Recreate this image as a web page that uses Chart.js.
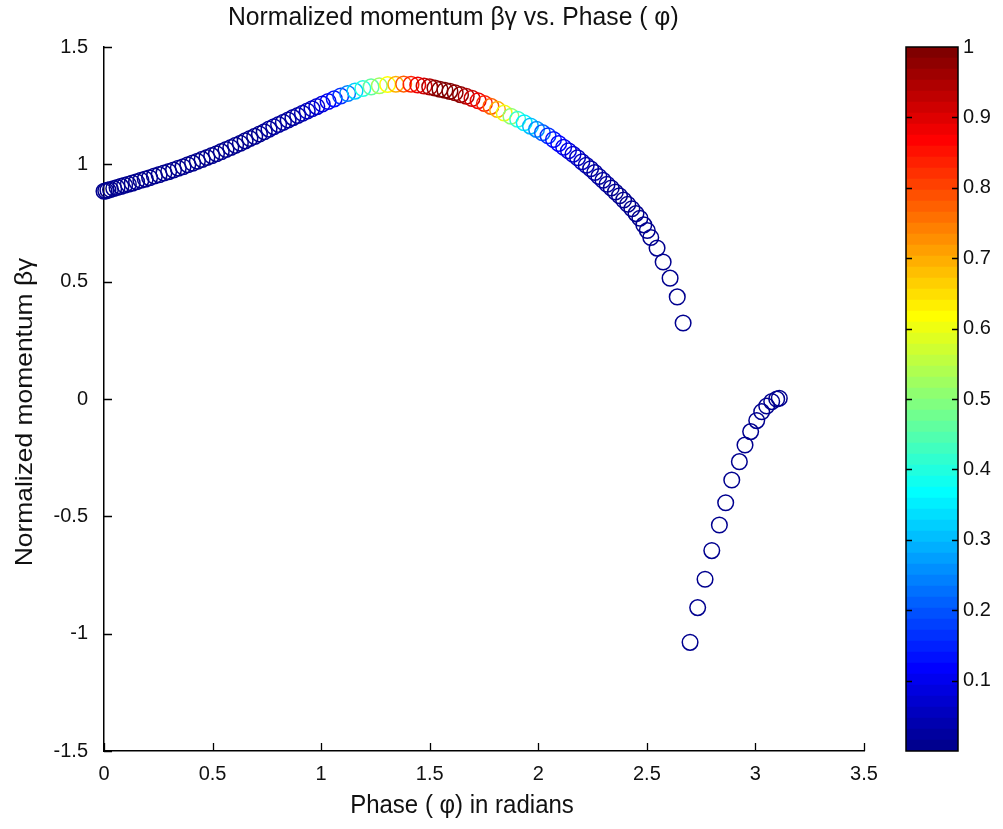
<!DOCTYPE html>
<html><head><meta charset="utf-8">
<script src="https://cdn.jsdelivr.net/npm/chart.js@4.4.1/dist/chart.umd.min.js"></script>
<style>
html,body{margin:0;padding:0;background:#fff;}
#wrap{position:relative;width:1003px;height:829px;background:#fff;}
#wrap canvas{position:absolute;left:0;top:0;}
</style></head><body>
<div id="wrap"><canvas id="main" width="1003" height="829"></canvas><canvas id="cbar" width="1003" height="829"></canvas></div>
<script>
// ---------------- data ----------------
const titleText = 'Normalized momentum βγ vs. Phase ( φ)';
const xLabel = 'Phase ( φ) in radians';
const yLabel = 'Normalized momentum βγ';

const xRange = [0, 3.5];
const xStep = 0.5;
const yRange = [-1.5, 1.5];
const yStep = 0.5;
const colorbarRange = [0, 1];
const colorbarStep = 0.1;
const colorbarLevels = 64;

// upper branch: phase (rad)
const upperPhase = [
  0.000, 0.008, 0.018, 0.030, 0.045, 0.060, 0.078, 0.095, 0.112, 0.130,
  0.150, 0.170, 0.190, 0.210, 0.232, 0.254, 0.276, 0.298, 0.320, 0.342,
  0.364, 0.386, 0.408, 0.430, 0.452, 0.474, 0.496, 0.518, 0.540, 0.562,
  0.584, 0.606, 0.628, 0.650, 0.672, 0.694, 0.716, 0.738, 0.760, 0.782,
  0.804, 0.826, 0.848, 0.870, 0.892, 0.914, 0.936, 0.958, 0.980, 1.005,
  1.032, 1.060, 1.090, 1.122, 1.156, 1.192, 1.230, 1.268, 1.306, 1.344,
  1.380, 1.414, 1.445, 1.474, 1.500, 1.524, 1.547, 1.570, 1.593, 1.617,
  1.642, 1.668, 1.695, 1.723, 1.752, 1.782, 1.812, 1.843, 1.874, 1.905,
  1.935, 1.964, 1.992, 2.019, 2.045, 2.070, 2.094, 2.117, 2.139, 2.160,
  2.181, 2.201, 2.221, 2.241, 2.260, 2.279, 2.298, 2.317, 2.336, 2.355,
  2.374, 2.393, 2.412, 2.431, 2.450, 2.468, 2.486, 2.502, 2.518, 2.547,
  2.575, 2.607, 2.640, 2.667
];
// upper branch: normalized momentum
const upperMomentum = [
  0.885, 0.887, 0.890, 0.893, 0.897, 0.901, 0.906, 0.911, 0.915, 0.920,
  0.926, 0.932, 0.937, 0.943, 0.950, 0.956, 0.963, 0.969, 0.976, 0.983,
  0.990, 0.998, 1.005, 1.013, 1.021, 1.029, 1.037, 1.045, 1.054, 1.063,
  1.072, 1.081, 1.090, 1.100, 1.110, 1.119, 1.129, 1.139, 1.150, 1.160,
  1.170, 1.179, 1.189, 1.199, 1.208, 1.218, 1.227, 1.237, 1.246, 1.257,
  1.268, 1.279, 1.291, 1.302, 1.312, 1.323, 1.330, 1.335, 1.340, 1.341,
  1.342, 1.341, 1.338, 1.334, 1.330, 1.325, 1.320, 1.316, 1.311, 1.305,
  1.297, 1.290, 1.281, 1.271, 1.259, 1.247, 1.234, 1.219, 1.205, 1.192,
  1.177, 1.163, 1.149, 1.135, 1.122, 1.106, 1.089, 1.073, 1.058, 1.043,
  1.028, 1.011, 0.996, 0.981, 0.965, 0.948, 0.932, 0.915, 0.899, 0.882,
  0.866, 0.848, 0.830, 0.811, 0.790, 0.770, 0.742, 0.718, 0.688, 0.643,
  0.584, 0.515, 0.435, 0.324
];
// upper branch: colour value (0..1)
const upperColor = [
  0.01, 0.01, 0.01, 0.01, 0.01, 0.01, 0.01, 0.01, 0.01, 0.01,
  0.01, 0.01, 0.01, 0.01, 0.01, 0.01, 0.01, 0.01, 0.01, 0.01,
  0.01, 0.01, 0.01, 0.01, 0.01, 0.01, 0.01, 0.01, 0.01, 0.01,
  0.01, 0.01, 0.01, 0.01, 0.01, 0.01, 0.01, 0.01, 0.02, 0.02,
  0.02, 0.02, 0.03, 0.03, 0.03, 0.04, 0.05, 0.06, 0.07, 0.08,
  0.10, 0.13, 0.17, 0.24, 0.32, 0.40, 0.46, 0.53, 0.61, 0.70,
  0.77, 0.84, 0.88, 0.92, 0.95, 0.98, 1.00, 1.00, 0.99, 0.97,
  0.97, 0.95, 0.92, 0.88, 0.84, 0.77, 0.69, 0.60, 0.50, 0.42,
  0.35, 0.30, 0.25, 0.21, 0.17, 0.14, 0.12, 0.10, 0.08, 0.07,
  0.06, 0.05, 0.04, 0.03, 0.03, 0.02, 0.02, 0.02, 0.01, 0.01,
  0.01, 0.01, 0.01, 0.01, 0.01, 0.01, 0.01, 0.01, 0.01, 0.01,
  0.01, 0.01, 0.01, 0.01
];

// lower branch
const lowerPhase = [
  2.699, 2.734, 2.768, 2.799, 2.834, 2.863, 2.891, 2.926, 2.952, 2.978,
  3.006, 3.029, 3.052, 3.075, 3.098, 3.110
];
const lowerMomentum = [
  -1.037, -0.889, -0.768, -0.646, -0.537, -0.442, -0.345, -0.267, -0.196, -0.139,
  -0.092, -0.054, -0.030, -0.011, 0.000, 0.003
];
const lowerColor = [
  0.01, 0.01, 0.01, 0.01, 0.01, 0.01, 0.01, 0.01, 0.01, 0.01,
  0.01, 0.01, 0.01, 0.01, 0.01, 0.01
];

// ---------------- styling helpers ----------------
const FONT = "'Liberation Sans', Arial, Helvetica, sans-serif";
function jetRGB(k) { // MATLAB jet(64), k = 1..64
  const b = k <= 8 ? (8 + k) / 16 : k <= 23 ? 1 : k <= 39 ? (40 - k) / 16 : 0;
  const g = k <= 8 ? 0 : k <= 24 ? (k - 8) / 16 : k <= 39 ? 1 : k <= 55 ? (56 - k) / 16 : 0;
  const r = k <= 24 ? 0 : k <= 40 ? (k - 24) / 16 : k <= 55 ? 1 : (72 - k) / 16;
  return 'rgb(' + Math.round(r * 255) + ',' + Math.round(g * 255) + ',' + Math.round(b * 255) + ')';
}
function jetColor(c) {
  const t = (c - colorbarRange[0]) / (colorbarRange[1] - colorbarRange[0]);
  const k = Math.max(1, Math.min(colorbarLevels, Math.floor(t * colorbarLevels) + 1));
  return jetRGB(k);
}
const toPoints = (xs, ys) => xs.map((x, i) => ({x: x, y: ys[i]}));
const fmt = v => String(+(+v).toFixed(1));

const innerTicks = {
  id: 'innerTicks',
  afterDraw(chart) {
    const {ctx, chartArea: a, scales} = chart;
    const x = scales.x, y = scales.y;
    ctx.save();
    ctx.strokeStyle = '#000';
    ctx.lineWidth = 1.3;
    ctx.beginPath();
    x.ticks.forEach(t => {
      const px = Math.round(x.getPixelForValue(t.value)) + 0.5;
      ctx.moveTo(px, a.bottom); ctx.lineTo(px, a.bottom - 8);
    });
    y.ticks.forEach(t => {
      const py = Math.round(y.getPixelForValue(t.value)) + 0.5;
      ctx.moveTo(a.left, py); ctx.lineTo(a.left + 8, py);
    });
    ctx.stroke();
    ctx.restore();
  }
};
const labelsPlugin = {
  id: 'labels',
  afterDraw(chart) {
    const ctx = chart.ctx;
    ctx.fillStyle = '#111';
    ctx.textBaseline = 'middle';
    // title
    ctx.save();
    ctx.font = '24px ' + FONT;
    ctx.textAlign = 'left';
    ctx.translate(228, 18);
    ctx.scale(1.03, 1.05);
    ctx.fillText(titleText, 0, 0);
    ctx.restore();
    // x label
    ctx.save();
    ctx.font = '24px ' + FONT;
    ctx.textAlign = 'center';
    ctx.translate(462, 806);
    ctx.scale(1, 1.05);
    ctx.fillText(xLabel, 0, 0);
    ctx.restore();
    // y label
    ctx.save();
    ctx.font = '24px ' + FONT;
    ctx.textAlign = 'center';
    ctx.translate(25, 412);
    ctx.rotate(-Math.PI / 2);
    ctx.scale(1.1, 1);
    ctx.fillText(yLabel, 0, 0);
    ctx.restore();
  }
};

new Chart(document.getElementById('main'), {
  type: 'scatter',
  data: {
    datasets: [
      {
        data: toPoints(upperPhase, upperMomentum),
        pointBorderColor: upperColor.map(jetColor),
        pointBackgroundColor: 'rgba(0,0,0,0)',
        pointRadius: 7.8, pointBorderWidth: 1.5, pointHoverRadius: 7.8,
        showLine: false, clip: false
      },
      {
        data: toPoints(lowerPhase, lowerMomentum),
        pointBorderColor: lowerColor.map(jetColor),
        pointBackgroundColor: 'rgba(0,0,0,0)',
        pointRadius: 7.8, pointBorderWidth: 1.5, pointHoverRadius: 7.8,
        showLine: false, clip: false
      }
    ]
  },
  options: {
    responsive: false, animation: false, devicePixelRatio: 1, events: [],
    layout: {padding: {left: 0, right: 139, top: 47, bottom: 0}},
    plugins: {legend: {display: false}, tooltip: {enabled: false}, title: {display: false}},
    scales: {
      x: {
        type: 'linear', min: xRange[0], max: xRange[1],
        ticks: {stepSize: xStep, padding: 11, color: '#111', font: {family: FONT, size: 20}, callback: fmt},
        grid: {display: false, drawTicks: false},
        border: {display: true, color: '#000', width: 1.5},
        afterFit: s => { s.height = 78; }
      },
      y: {
        type: 'linear', min: yRange[0], max: yRange[1],
        ticks: {stepSize: yStep, padding: 16, color: '#111', font: {family: FONT, size: 20}, callback: fmt},
        grid: {display: false, drawTicks: false},
        border: {display: true, color: '#000', width: 1.5},
        afterFit: s => { s.width = 104; }
      }
    }
  },
  plugins: [innerTicks, labelsPlugin]
});

// ---------------- colour bar ----------------
const levelIndex = Array.from({length: colorbarLevels}, (_, i) => i + 1);
const cbarFrame = {
  id: 'cbarFrame',
  afterDraw(chart) {
    const {ctx, chartArea: a, scales} = chart;
    const y = scales.y;
    ctx.save();
    ctx.strokeStyle = '#000';
    ctx.lineWidth = 1.5;
    ctx.strokeRect(a.left, a.top, a.right - a.left, a.bottom - a.top);
    ctx.beginPath();
    y.ticks.forEach(t => {
      if (t.value <= colorbarRange[0] + 1e-9 || t.value >= colorbarRange[1] - 1e-9) return;
      const py = Math.round(y.getPixelForValue(t.value)) + 0.5;
      ctx.moveTo(a.left, py); ctx.lineTo(a.left + 6, py);
      ctx.moveTo(a.right, py); ctx.lineTo(a.right - 6, py);
    });
    ctx.stroke();
    ctx.restore();
  }
};
new Chart(document.getElementById('cbar'), {
  type: 'bar',
  data: {
    labels: [''],
    datasets: levelIndex.map(k => ({
      data: [(colorbarRange[1] - colorbarRange[0]) / colorbarLevels],
      backgroundColor: jetRGB(k),
      borderWidth: 0,
      barPercentage: 1, categoryPercentage: 1
    }))
  },
  options: {
    responsive: false, animation: false, devicePixelRatio: 1, events: [],
    layout: {padding: {left: 906, right: 0, top: 47, bottom: 78}},
    plugins: {legend: {display: false}, tooltip: {enabled: false}},
    scales: {
      x: {display: false, stacked: true},
      y: {
        position: 'right', stacked: true, min: colorbarRange[0], max: colorbarRange[1],
        ticks: {
          stepSize: colorbarStep, padding: 5, color: '#111', font: {family: FONT, size: 20},
          callback: v => (v <= colorbarRange[0] + 1e-9) ? '' : fmt(v)
        },
        grid: {display: false, drawTicks: false},
        border: {display: false},
        afterFit: s => { s.width = 45; }
      }
    }
  },
  plugins: [cbarFrame]
});
</script>
</body></html>
